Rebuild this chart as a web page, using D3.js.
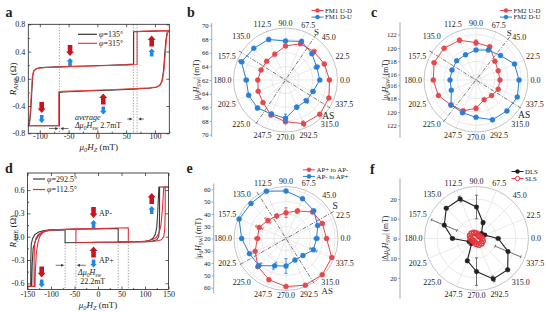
<!DOCTYPE html>
<html><head><meta charset="utf-8">
<script src="https://cdn.jsdelivr.net/npm/d3@7/dist/d3.min.js"></script>
<style>
html,body{margin:0;padding:0;background:#fff;}
svg{display:block;}
text{font-family:"Liberation Serif","Times New Roman",serif;fill:#222;}
</style></head><body>
<svg id="fig" width="546" height="312"></svg>
<script>
// ================= DATA =================
// Panel a : R_AHE hysteresis loops (field mT, R ohm)
const aTicksX = [-100, -50, 0, 50, 100];
const aTicksY = [-0.8, -0.4, 0, 0.4, 0.8];
const aLoop135 = [[125,0.705],[100,0.70],[80,0.695],[63,0.69],[63,0.215],[50,0.208],[20,0.198],[-20,0.188],[-60,0.178],[-90,0.168],[-101,0.16],[-106,0.148],[-110,0.12],[-112,0.06],[-114,-0.2],[-116,-0.5],[-118,-0.66],[-120,-0.69],
  [-66,-0.69],[-66,-0.2],[-60,-0.193],[-20,-0.18],[20,-0.168],[60,-0.152],[90,-0.138],[102,-0.125],[108,-0.1],[112,-0.04],[115,0.12],[117,0.35],[119,0.56],[121,0.67],[124,0.70],[125,0.705]];
const aLoop315 = [[125,0.71],[100,0.705],[80,0.70],[69,0.695],[69,0.21],[55,0.205],[20,0.195],[-20,0.185],[-60,0.175],[-90,0.166],[-101,0.158],[-107,0.145],[-111,0.11],[-113,0.03],[-115,-0.25],[-117,-0.55],[-119,-0.68],[-120,-0.69],
  [-67,-0.69],[-67,-0.19],[-60,-0.185],[-20,-0.172],[20,-0.16],[60,-0.146],[90,-0.133],[103,-0.12],[109,-0.095],[113,-0.03],[116,0.14],[118,0.38],[120,0.58],[122,0.68],[125,0.71]];
const aLegend = ["135°", "315°"];
const aSwitchH = [-66, 62.6, 69];
// arrow pairs: [H, R, redDir, blueDir]  (1 = up, -1 = down)
const aArrows = [[-47.5,0.32,-1,1],[94.4,0.46,1,1],[10.3,-0.392,1,-1],[-96.7,-0.517,-1,-1]];

// Panel d
const dTicksX = [-150, -100, -50, 0, 50, 100, 150];
const dTicksY = [-0.6, -0.3, 0, 0.3, 0.6];
const dLoop2925 = [[-150,-0.64],[-143,-0.64],[-143,-0.3],[-142,-0.1],[-139,-0.02],[-134,0.03],[-126,0.06],[-115,0.08],[-100,0.088],[-50,0.095],[0,0.1],[43,0.105],[43,-0.065],[80,-0.065],[100,-0.058],[110,-0.045],[117,-0.02],[122,0.03],[125,0.12],[127,0.3],[128.5,0.5],[129.5,0.64],[150,0.64],
  [131,0.64],[131,0.3],[130.5,0.1],[129,0.0],[125,-0.04],[115,-0.058],[100,-0.065],[50,-0.07],[0,-0.072],[-70,-0.078],[-70,0.085],[-100,0.083],[-112,0.07],[-120,0.05],[-127,0.01],[-133,-0.05],[-138,-0.15],[-140,-0.35],[-141,-0.64],[-150,-0.64]];
const dLoop1125 = [[-150,-0.64],[-136,-0.64],[-136,-0.3],[-135,-0.1],[-132,-0.02],[-127,0.03],[-118,0.065],[-105,0.085],[-50,0.1],[0,0.105],[64.5,0.115],[64.5,-0.065],[90,-0.062],[105,-0.055],[115,-0.04],[124,-0.01],[130,0.05],[134,0.15],[137,0.35],[139,0.55],[140,0.64],[150,0.64],
  [143,0.64],[143,0.3],[142,0.1],[140,0.0],[135,-0.04],[125,-0.055],[105,-0.065],[50,-0.07],[0,-0.072],[-47,-0.078],[-47,0.095],[-100,0.088],[-110,0.075],[-118,0.05],[-124,0.0],[-128,-0.08],[-131,-0.2],[-133,-0.4],[-134,-0.64],[-150,-0.64]];
const dLegend = ["292.5°", "112.5°"];
const dSwitchH = [-70, -47, 43, 64.5];
const dArrows = [[-9.5,0.228,-1,1],[-9.5,-0.281,1,-1],[-119.8,-0.538,-1,-1],[114.3,0.408,1,1]];

// Polar panels (angle in degrees, value in mT)
const angles = d3.range(16).map(i => i * 22.5);
const fm1UD    = [68.44,68.15,67.86,67.74,66.98,66.10,65.90,65.87,66.06,66.33,66.66,67.56,68.10,68.92,69.09,68.88];
const fm1UDerr = [0.2,0.2,0.4,0.2,0.2,0.2,0.2,0.2,0.2,0.2,0.2,0.2,0.3,0.4,0.2,0.2];
const fm1DU    = [67.02,66.95,67.46,68.12,67.71,68.43,68.56,68.98,67.75,67.84,67.80,67.39,67.61,66.30,66.32,66.36];
const fm1DUerr = [0.2,0.4,0.2,0.3,0.2,0.2,0.2,0.4,0.3,0.2,0.3,0.3,0.6,0.3,0.4,0.3];
const fm2UD    = [118.8,118.8,119.2,120.6,120.8,121.65,121.95,122.0,121.6,121.3,120.5,120.2,119.45,118.4,118.5,118.8];
const fm2UDerr = [0.15,0.15,0.2,0.2,0.4,0.3,0.2,0.3,0.2,0.2,0.2,0.2,0.3,0.2,0.15,0.15];
const fm2DU    = [121.65,121.45,120.4,120.05,119.7,119.3,119.3,119.1,119.1,119.2,120.5,120.5,120.8,121.65,121.75,121.9];
const fm2DUerr = [0.15,0.15,0.15,0.15,0.15,0.15,0.15,0.15,0.15,0.15,0.15,0.2,0.15,0.15,0.15,0.15];
const apPtoM    = [53.0,52.0,50.6,44.2,41.0,39.8,40.8,43.6,43.3,47.2,52.3,56.3,59.1,61.1,61.7,60.3];
const apPtoMerr = [1,1,1,2,4,1.5,3,3,2,1,1,1,1,1,1,1];
const apMtoP    = [44.9,47.9,51.9,55.1,58.6,61.7,60.3,61.3,56.1,52.2,51.2,44.1,42.4,39.0,39.5,44.1];
const apMtoPerr = [2,1,1,1,1,1,1,1,1,1,3,3,6,1,1,3];
const dls    = [11,4.5,3.5,8.7,16,21.7,21.7,17.7,12.2,4,3.5,12.2,16.8,22.2,22.4,17.3];
const dlsErr = [1,1,1,1,6,1.5,1,7,1,1,1.5,1,7,1.5,1,7];
const sls    = [2.8,2.2,1.8,2.0,2.6,3.2,3.6,3.6,3.0,2.4,2.0,2.2,2.8,3.4,3.6,3.4];

const RED = "#e5484d", BLUE = "#2a7fd4";
const SERIF = '"Liberation Serif","Times New Roman",serif';
const svg = d3.select("#fig");

// ================ helpers ================
function rich(t, parts) {
  let shift = 0;
  parts.forEach(p => {
    const ts = t.append("tspan").text(p.t);
    if (p.it) ts.attr("font-style", "italic");
    const target = p.sub ? 2 : 0;
    if (target !== shift) { ts.attr("dy", target - shift); shift = target; }
    if (p.sub) ts.attr("font-size", "0.7em");
  });
}
function blockArrow(x, y0, len, w, hw, hl, up) {
  const top = y0, bot = y0 + len;
  if (up > 0) {
    return `M${x},${top}L${x+hw/2},${top+hl}L${x+w/2},${top+hl}L${x+w/2},${bot}L${x-w/2},${bot}L${x-w/2},${top+hl}L${x-hw/2},${top+hl}Z`;
  } else {
    return `M${x},${bot}L${x+hw/2},${bot-hl}L${x+w/2},${bot-hl}L${x+w/2},${top}L${x-w/2},${top}L${x-w/2},${bot-hl}L${x-hw/2},${bot-hl}Z`;
  }
}
function smallArrow(g, x1, x2, y) {
  const dir = x2 > x1 ? 1 : -1;
  g.append("line").attr("x1", x1).attr("x2", x2 - dir*2).attr("y1", y).attr("y2", y).attr("stroke", "#333").attr("stroke-width", 0.7);
  g.append("path").attr("d", `M${x2},${y}L${x2-dir*3},${y-1.6}L${x2-dir*3},${y+1.6}Z`).attr("fill", "#333");
}
const signFmt = f => d => (d < 0 ? "-" : "") + f(Math.abs(d));

function styleAxis(sel, fs) {
  sel.attr("font-family", SERIF).attr("font-size", fs);
  sel.select(".domain").remove();
  sel.selectAll("line").attr("stroke", "#222").attr("stroke-width", 0.7);
  sel.selectAll("text").attr("fill", "#222");
}

// ================ hysteresis panels ================
function hyst(o) {
  const g = svg.append("g");
  const x = d3.scaleLinear().domain(o.xd).range([o.left, o.right]);
  const y = d3.scaleLinear().domain(o.yd).range([o.bottom, o.top]);
  g.selectAll(null).data(o.sw).join("line")
    .attr("x1", d => x(d)).attr("x2", d => x(d))
    .attr("y1", o.swTop === null ? o.top : y(o.swTop)).attr("y2", o.bottom)
    .attr("stroke", "#8a8a8a").attr("stroke-width", 0.8).attr("stroke-dasharray", "1.3,1.5");
  const line = d3.line().x(d => x(d[0])).y(d => y(d[1]));
  o.series.forEach(s => g.append("path").attr("d", line(s.data)).attr("fill", "none")
    .attr("stroke", s.color).attr("stroke-width", 1.1).attr("stroke-linejoin", "round"));
  g.append("rect").attr("x", o.left).attr("y", o.top).attr("width", o.right - o.left).attr("height", o.bottom - o.top)
    .attr("fill", "none").attr("stroke", "#222").attr("stroke-width", 0.8);
  const fx = signFmt(d3.format(o.xf)), fy = signFmt(d3.format(o.yf));
  g.append("g").attr("transform", `translate(0,${o.bottom})`)
    .call(d3.axisBottom(x).tickValues(o.xt).tickSize(-3).tickPadding(o.xpad).tickFormat(fx)).call(s => styleAxis(s, 8));
  g.append("g").attr("transform", `translate(0,${o.bottom})`)
    .call(d3.axisBottom(x).tickValues(o.xm).tickSize(-1.6).tickFormat("")).call(s => styleAxis(s, 8));
  g.append("g").attr("transform", `translate(0,${o.top})`)
    .call(d3.axisTop(x).tickValues(o.xt).tickSize(-3).tickFormat("")).call(s => styleAxis(s, 8));
  g.append("g").attr("transform", `translate(${o.left},0)`)
    .call(d3.axisLeft(y).tickValues(o.yt).tickSize(-3).tickPadding(3).tickFormat(fy)).call(s => styleAxis(s, 8));
  g.append("g").attr("transform", `translate(${o.left},0)`)
    .call(d3.axisLeft(y).tickValues(o.ym).tickSize(-1.6).tickFormat("")).call(s => styleAxis(s, 8));
  g.append("g").attr("transform", `translate(${o.right},0)`)
    .call(d3.axisRight(y).tickValues(o.yt).tickSize(-3).tickFormat("")).call(s => styleAxis(s, 8));
  const yt = g.append("text").attr("transform", `translate(${o.ytx},${(o.top+o.bottom)/2}) rotate(-90)`)
    .attr("text-anchor", "middle").attr("dy", "0.35em").attr("font-size", 9);
  rich(yt, [{t:"R", it:1},{t:"AHE", sub:1, it:1},{t:" (Ω)"}]);
  const xt = g.append("text").attr("x", (o.left+o.right)/2).attr("y", o.xty).attr("text-anchor", "middle").attr("font-size", 9);
  rich(xt, [{t:"μ", it:1},{t:"0", sub:1, it:1},{t:"H", it:1},{t:"Z", sub:1, it:1},{t:" (mT)"}]);
  o.series.forEach((s, i) => {
    const ly = o.leg.y + i * o.leg.dy;
    g.append("line").attr("x1", o.leg.x).attr("x2", o.leg.x + o.leg.w).attr("y1", ly).attr("y2", ly)
      .attr("stroke", s.color).attr("stroke-width", 1.2);
    const t = g.append("text").attr("x", o.leg.x + o.leg.w + 2).attr("y", ly).attr("dy", "0.35em").attr("font-size", 8);
    rich(t, [{t:"φ", it:1},{t:"=" + s.label}]);
  });
  o.arrows.forEach(a => {
    const px = x(a[0]), py = y(a[1]);
    g.append("path").attr("d", blockArrow(px, py - 12, 11, 4.6, 8, 4.6, a[2])).attr("fill", "#c8141e");
    g.append("path").attr("d", blockArrow(px, py + 1, 8, 3.6, 6.6, 3.6, a[3])).attr("fill", "#1e88e5");
  });
  return {g, x, y};
}

const A = hyst({
  left: 28.3, right: 169.3, top: 24.3, bottom: 133.3,
  xd: [-120, 125], yd: [-0.8, 0.8], xt: aTicksX, yt: aTicksY,
  xm: [-75,-25,25,75,125], ym: [-0.6,-0.2,0.2,0.6],
  xf: "d", yf: ".1f", sw: aSwitchH, swTop: null, xpad: 0.5,
  series: [{data: aLoop135, color: "#333", label: aLegend[0]}, {data: aLoop315, color: "#f03c3c", label: aLegend[1]}],
  ytx: 12.5, xty: 150, leg: {x: 78, y: 34.3, dy: 9, w: 19}, arrows: aArrows
});
{
  A.g.append("text").attr("x", A.x(-39)).attr("y", A.y(-0.6)).attr("font-size", 8).attr("font-style", "italic").text("average");
  const t2 = A.g.append("text").attr("x", A.x(-39)).attr("y", A.y(-0.72)).attr("font-size", 8);
  rich(t2, [{t:"Δ", it:1},{t:"μ", it:1},{t:"0", sub:1, it:1},{t:"H", it:1},{t:"sw", sub:1, it:1},{t:" 2.7mT"}]);
  smallArrow(A.g, A.x(-84), A.x(-68), A.y(-0.73));
  smallArrow(A.g, A.x(-50), A.x(-64), A.y(-0.73));
  smallArrow(A.g, A.x(52), A.x(61), A.y(-0.59));
  smallArrow(A.g, A.x(81), A.x(71), A.y(-0.59));
}

const D = hyst({
  left: 27.5, right: 168.5, top: 173, bottom: 289.5,
  xd: [-150, 150], yd: [-0.68, 0.82], xt: dTicksX, yt: dTicksY,
  xm: [-125,-75,-25,25,75,125], ym: [-0.45,-0.15,0.15,0.45],
  xf: "d", yf: ".1f", sw: dSwitchH, swTop: -0.07, xpad: 2,
  series: [{data: dLoop2925, color: "#3a3a3a", label: dLegend[0]}, {data: dLoop1125, color: "#e0303a", label: dLegend[1]}],
  ytx: 12.5, xty: 308, leg: {x: 33, y: 179, dy: 10.5, w: 12}, arrows: dArrows
});
{
  D.g.append("text").attr("x", D.x(2)).attr("y", D.y(0.266)).attr("font-size", 8).text("AP-");
  D.g.append("text").attr("x", D.x(2)).attr("y", D.y(-0.339)).attr("font-size", 8).text("AP+");
  const t2 = D.g.append("text").attr("x", D.x(-42.5)).attr("y", D.y(-0.493)).attr("font-size", 8);
  rich(t2, [{t:"Δ", it:1},{t:"μ", it:1},{t:"0", sub:1, it:1},{t:"H", it:1},{t:"sw", sub:1, it:1}]);
  D.g.append("text").attr("x", D.x(-38)).attr("y", D.y(-0.603)).attr("font-size", 8).text("22.2mT");
  smallArrow(D.g, D.x(-90), D.x(-72), D.y(-0.368));
  smallArrow(D.g, D.x(-26), D.x(-45), D.y(-0.368));
}

// ================ polar panels ================
function polar(o) {
  const g = svg.append("g");
  const rs = d3.scaleLinear().domain([o.r0, o.r1]).range([0, o.R]);
  const rad = a => a * Math.PI / 180;
  const px = (a, r) => o.cx + r * Math.cos(rad(a));
  const py = (a, r) => o.cy - r * Math.sin(rad(a));
  g.selectAll(null).data(o.grid.filter(v => rs(v) < o.R - 1)).join("circle")
    .attr("cx", o.cx).attr("cy", o.cy).attr("r", d => rs(d))
    .attr("fill", "none").attr("stroke", "#dcdcdc").attr("stroke-width", 0.6);
  g.selectAll(null).data(angles).join("line")
    .attr("x1", o.cx).attr("y1", o.cy).attr("x2", d => px(d, o.R)).attr("y2", d => py(d, o.R))
    .attr("stroke", "#dcdcdc").attr("stroke-width", 0.6);
  g.append("circle").attr("cx", o.cx).attr("cy", o.cy).attr("r", o.R)
    .attr("fill", "none").attr("stroke", "#b5b5b5").attr("stroke-width", 0.8);
  const fa = d3.format(".1f");
  const lpos = (d, k) => {
    const c = Math.cos(rad(d)), s = Math.sin(rad(d)), w = fa(d).length * 3.6;
    const r = o.R + 2 + Math.abs(c) * w / 2 + Math.abs(s) * 3;
    return k ? py(d, r) : px(d, r);
  };
  g.selectAll(null).data(angles).join("text")
    .attr("x", d => lpos(d, 0)).attr("y", d => lpos(d, 1))
    .attr("text-anchor", "middle").attr("dy", "0.35em").attr("font-size", 8).text(d => fa(d));
  if (o.lines) {
    o.lines.forEach(l => {
      g.append("line").attr("x1", px(l.a, o.R + 3)).attr("y1", py(l.a, o.R + 3))
        .attr("x2", px(l.a + 180, o.R + 2)).attr("y2", py(l.a + 180, o.R + 2))
        .attr("stroke", "#444").attr("stroke-width", 0.7).attr("stroke-dasharray", "4,1.5,1,1.5");
      g.append("text").attr("x", px(l.la, o.R + l.lr)).attr("y", py(l.la, o.R + l.lr))
        .attr("text-anchor", "middle").attr("dy", "0.35em").attr("font-size", l.fs || 9.5).text(l.t);
    });
  }
  const up = d3.scaleLinear().domain([o.r0, o.r1]).range([o.cy, o.cy - (o.r1 - o.r0) * o.axPx]);
  const dn = d3.scaleLinear().domain([o.r0, o.r1]).range([o.cy, o.cy + (o.r1 - o.r0) * o.axPx]);
  g.append("line").attr("x1", o.ax).attr("x2", o.ax).attr("y1", o.cy - o.axExt).attr("y2", o.cy + o.axExt)
    .attr("stroke", "#888").attr("stroke-width", 0.7);
  g.append("g").attr("transform", `translate(${o.ax},0)`)
    .call(d3.axisLeft(up).tickValues(o.ticks).tickSize(2).tickPadding(1.2).tickFormat(d3.format("d")))
    .call(s => styleAxis(s, 6.6));
  g.append("g").attr("transform", `translate(${o.ax},0)`)
    .call(d3.axisLeft(dn).tickValues(o.ticks.filter(v => v !== o.r0)).tickSize(2).tickPadding(1.2).tickFormat(d3.format("d")))
    .call(s => styleAxis(s, 6.6));
  g.selectAll(".tick line").attr("stroke", "#888");
  const tt = g.append("text").attr("transform", `translate(${o.ax - 15},${o.cy}) rotate(-90)`)
    .attr("text-anchor", "middle").attr("dy", "0.35em").attr("font-size", 7.6);
  rich(tt, (o.delta ? [{t:"|Δ"}] : [{t:"|"}]).concat([{t:"μ", it:1},{t:"0", sub:1, it:1},{t:"H", it:1},{t:"SW", sub:1},{t:"| (mT)"}]));
  o.series.forEach(s => {
    const pts = angles.map((a, i) => ({a, v: s.v[i], e: s.e ? s.e[i] : 0}));
    const line = d3.lineRadial().angle(d => Math.PI / 2 - rad(d.a)).radius(d => rs(d.v)).curve(d3.curveLinearClosed);
    g.append("path").attr("transform", `translate(${o.cx},${o.cy})`).attr("d", line(pts))
      .attr("fill", "none").attr("stroke", s.color).attr("stroke-width", s.lw || 1);
    pts.filter(d => d.e > 0).forEach(d => {
      const r1 = rs(d.v - d.e), r2 = rs(d.v + d.e);
      const c = Math.cos(rad(d.a)), sn = Math.sin(rad(d.a));
      g.append("line").attr("x1", px(d.a, r1)).attr("y1", py(d.a, r1)).attr("x2", px(d.a, r2)).attr("y2", py(d.a, r2))
        .attr("stroke", s.ecolor || s.color).attr("stroke-width", 0.8);
      [r1, r2].forEach(r => {
        const mx = px(d.a, r), my = py(d.a, r);
        g.append("line").attr("x1", mx - 1.6 * sn).attr("y1", my - 1.6 * c).attr("x2", mx + 1.6 * sn).attr("y2", my + 1.6 * c)
          .attr("stroke", s.ecolor || s.color).attr("stroke-width", 0.8);
      });
    });
    g.selectAll(null).data(pts).join("circle")
      .attr("cx", d => px(d.a, rs(d.v))).attr("cy", d => py(d.a, rs(d.v))).attr("r", s.mr || 2.5)
      .attr("fill", s.open ? "none" : s.color).attr("stroke", s.color).attr("stroke-width", s.open ? 1.2 : 0.4);
  });
  o.series.forEach((s, i) => {
    const ly = o.leg.y + i * o.leg.dy;
    g.append("line").attr("x1", o.leg.x).attr("x2", o.leg.x + 12).attr("y1", ly).attr("y2", ly)
      .attr("stroke", s.color).attr("stroke-width", 1);
    g.append("circle").attr("cx", o.leg.x + 6).attr("cy", ly).attr("r", 2.1)
      .attr("fill", s.open ? "#fff" : s.color).attr("stroke", s.color).attr("stroke-width", s.open ? 1 : 0.4);
    g.append("text").attr("x", o.leg.x + 13.5).attr("y", ly).attr("dy", "0.33em").attr("font-size", 6.8).text(s.name);
  });
  return g;
}

polar({
  cx: 285.5, cy: 80, R: 52, r0: 62, r1: 62 + 52 / 6.83, grid: [64, 66, 68],
  ax: 211.7, axPx: 6.83, axExt: 57, ticks: [62, 64, 66, 68, 70],
  lines: [{a: 56, t: "S", la: 57, lr: 5, fs: 9}, {a: 148, t: "AS", la: -39.5, lr: 3.5}],
  series: [{v: fm1UD, e: fm1UDerr, color: RED, name: "FM1 U-D"}, {v: fm1DU, e: fm1DUerr, color: BLUE, name: "FM1 D-U"}],
  leg: {x: 311.5, y: 10.5, dy: 6.6}
});
polar({
  cx: 476, cy: 80, R: 52, r0: 115.2, r1: 115.2 + 52 / 6.67, grid: [116, 118, 120, 122],
  ax: 400, axPx: 6.67, axExt: 58, ticks: [116, 118, 120, 122],
  lines: [{a: 52, t: "S", la: 55, lr: 6, fs: 9}, {a: 148, t: "AS", la: -36, lr: 7.5}],
  series: [{v: fm2UD, e: fm2UDerr, color: RED, name: "FM2 U-D"}, {v: fm2DU, e: fm2DUerr, color: BLUE, name: "FM2 D-U"}],
  leg: {x: 500, y: 10.5, dy: 6.6}
});
polar({
  cx: 286, cy: 238.5, R: 52, r0: 20, r1: 20 + 52 / 1.229, grid: [30, 40, 50, 60],
  ax: 213.7, axPx: 1.229, axExt: 55, ticks: [20, 30, 40, 50, 60],
  lines: [{a: 29.5, t: "S", la: 33.6, lr: 7}, {a: 122, t: "AS", la: -52, lr: 15, fs: 8.8}],
  series: [{v: apPtoM, e: apPtoMerr, color: RED, name: "AP+ to AP-"}, {v: apMtoP, e: apMtoPerr, color: BLUE, name: "AP- to AP+"}],
  leg: {x: 303, y: 169.8, dy: 6.6}
});
polar({
  cx: 476.5, cy: 238.5, R: 52, r0: 0, r1: 52 / 1.97, grid: [10, 20],
  ax: 400, axPx: 1.97, axExt: 60, ticks: [0, 10, 20], delta: true,
  series: [{v: dls, e: dlsErr, color: "#222", ecolor: "#555", name: "DLS", mr: 2.3, lw: 1.1},
           {v: sls, color: "#e8343c", name: "SLS", open: true, mr: 2.6}],
  leg: {x: 511.5, y: 171.5, dy: 7}
});

[["a",5.5,16.7],["b",187,16.7],["c",371,16.7],["d",5,172.7],["e",186.5,173.3],["f",370,174]].forEach(p =>
  svg.append("text").attr("x", p[1]).attr("y", p[2]).attr("font-size", 14).attr("font-weight", "bold").text(p[0]));
</script></body></html>
